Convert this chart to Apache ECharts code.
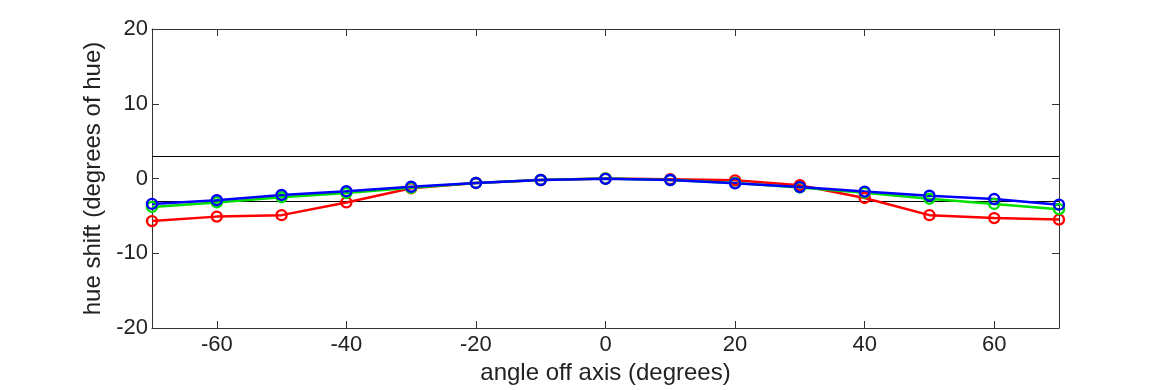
<!DOCTYPE html>
<html lang="en">
<head>
    <meta charset="UTF-8">
    <title>hue shift</title>
    <script src="https://cdn.jsdelivr.net/npm/echarts@6/dist/echarts.min.js"></script>
    <style>
        html, body, #main {
            width: 100%;
            height: 100%;
            padding: 0;
            margin: 0;
            background: #fff;
        }
    </style>
</head>
<body>
<div id="main"></div>
<script>
    // angles and measured hue shift per channel
    var angles = [-70, -60, -50, -40, -30, -20, -10, 0, 10, 20, 30, 40, 50, 60, 70];
    var redShift   = [-5.7, -5.1, -4.9, -3.2, -1.3, -0.6, -0.2, 0, -0.1, -0.25, -0.9, -2.6, -4.9, -5.3, -5.5];
    var greenShift = [-3.8, -3.2, -2.5, -1.95, -1.25, -0.6, -0.2, 0, -0.2, -0.6, -1.2, -1.9, -2.7, -3.4, -4.1];
    var blueShift  = [-3.4, -2.9, -2.2, -1.7, -1.1, -0.6, -0.2, -0.05, -0.2, -0.65, -1.15, -1.75, -2.3, -2.75, -3.5];
    var xTicks = [-60, -40, -20, 0, 20, 40, 60];
    var limits = [3, -3];

    function pairs(ys) {
        return angles.map(function (a, i) { return [a, ys[i]]; });
    }

    var font = 'Liberation Sans, Arial, Helvetica, sans-serif';
    var axisCol = '#333';
    var axisLine = { show: true, onZero: false, lineStyle: { color: axisCol, width: 1 } };

    function line(name, color, ys, extra) {
        var s = {
            name: name,
            type: 'line',
            z: 3,
            data: pairs(ys),
            symbol: 'circle',
            symbolSize: 10,
            showAllSymbol: true,
            lineStyle: { color: color, width: 2.5 },
            itemStyle: { color: 'rgba(0,0,0,0)', borderColor: color, borderWidth: 2.4 },
            animation: false
        };
        for (var k in extra) s[k] = extra[k];
        return s;
    }

    var myChart = echarts.init(document.getElementById('main'));
    myChart.setOption({
        backgroundColor: '#fff',
        grid: { left: 152, right: 111, top: 29, bottom: 62 },
        xAxis: [{
            type: 'value',
            min: -70,
            max: 70,
            name: 'angle off axis (degrees)',
            nameLocation: 'middle',
            nameGap: 32,
            nameTextStyle: { fontFamily: font, fontSize: 24, color: '#222' },
            axisLine: axisLine,
            axisTick: { inside: true, length: 7, customValues: xTicks, lineStyle: { color: axisCol } },
            axisLabel: { customValues: xTicks, margin: 6, fontFamily: font, fontSize: 22, color: '#222' },
            splitLine: { show: false }
        }, {
            type: 'value',
            position: 'top',
            min: -70,
            max: 70,
            axisLine: axisLine,
            axisTick: { inside: true, length: 7, customValues: xTicks, lineStyle: { color: axisCol } },
            axisLabel: { show: false },
            splitLine: { show: false }
        }],
        yAxis: [{
            type: 'value',
            min: -20,
            max: 20,
            interval: 10,
            name: 'hue shift (degrees of hue)',
            nameLocation: 'middle',
            nameGap: 40,
            nameTextStyle: { fontFamily: font, fontSize: 24, color: '#222' },
            axisLine: axisLine,
            axisTick: { show: true, inside: true, length: 7, lineStyle: { color: axisCol } },
            axisLabel: { margin: 4, fontFamily: font, fontSize: 22, color: '#222' },
            splitLine: { show: false }
        }, {
            type: 'value',
            position: 'right',
            min: -20,
            max: 20,
            interval: 10,
            axisLine: axisLine,
            axisTick: { show: true, inside: true, length: 7, lineStyle: { color: axisCol } },
            axisLabel: { show: false },
            splitLine: { show: false }
        }],
        series: [
            line('red', '#ff0000', redShift, {
                markLine: {
                    silent: true,
                    z: 1,
                    symbol: 'none',
                    label: { show: false },
                    lineStyle: { color: '#000', width: 1.2, type: 'solid' },
                    data: limits.map(function (v) { return { yAxis: v }; })
                }
            }),
            line('green', '#00e000', greenShift, {}),
            line('blue', '#0000ff', blueShift, {})
        ]
    });
</script>
</body>
</html>
